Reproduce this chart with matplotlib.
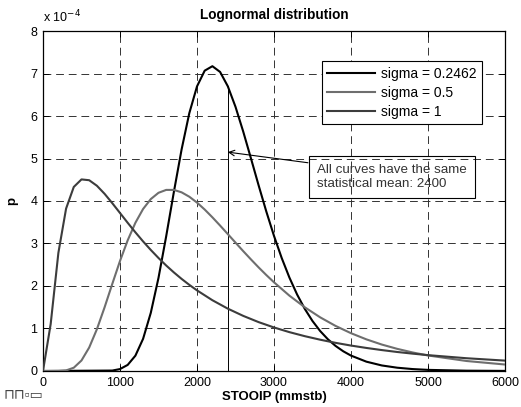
import matplotlib
matplotlib.use("Agg")
import matplotlib.pyplot as plt

plt.rcParams['font.family'] = ['Liberation Sans', 'DejaVu Sans']

# values, p in units of 1e-4
x_a = [0, 900, 1000, 1100, 1200, 1300, 1400, 1500, 1600, 1700, 1800, 1900, 2000,
       2100, 2200, 2300, 2400, 2500, 2600, 2700, 2800, 2900, 3000, 3100, 3200,
       3300, 3400, 3500, 3600, 3700, 3800, 3900, 4000, 4200, 4400, 4600, 4800,
       5000, 5500, 6000]
p_a = [0, 0.01, 0.045, 0.143, 0.36, 0.757, 1.368, 2.19, 3.17, 4.215, 5.212, 6.065,
       6.696, 7.067, 7.172, 7.037, 6.701, 6.217, 5.636, 5.008, 4.37, 3.754, 3.179,
       2.659, 2.199, 1.8, 1.461, 1.176, 0.939, 0.746, 0.589, 0.463, 0.362, 0.219,
       0.13, 0.077, 0.045, 0.026, 0.007, 0.002]

x_b = [0, 200, 300, 400, 500, 600, 700, 800, 900, 1000, 1100, 1200, 1300, 1400,
       1500, 1600, 1700, 1800, 1900, 2000, 2100, 2200, 2300, 2400, 2500, 2600,
       2700, 2800, 2900, 3000, 3200, 3400, 3600, 3800, 4000, 4200, 4400, 4600,
       4800, 5000, 5500, 6000]
p_b = [0, 0.001, 0.013, 0.077, 0.247, 0.552, 0.982, 1.498, 2.049, 2.588, 3.075,
       3.487, 3.812, 4.045, 4.193, 4.261, 4.261, 4.204, 4.101, 3.963, 3.799, 3.616,
       3.422, 3.222, 3.021, 2.821, 2.627, 2.438, 2.258, 2.087, 1.773, 1.499, 1.262,
       1.06, 0.889, 0.744, 0.622, 0.521, 0.436, 0.365, 0.235, 0.152]

x_c = [0, 100, 200, 300, 400, 500, 600, 700, 800, 900, 1000, 1100, 1200, 1300,
       1400, 1500, 1600, 1700, 1800, 1900, 2000, 2200, 2400, 2600, 2800, 3000,
       3200, 3400, 3600, 3800, 4000, 4200, 4400, 4600, 4800, 5000, 5500, 6000]
p_c = [0, 1.105, 2.78, 3.821, 4.331, 4.508, 4.489, 4.359, 4.169, 3.949, 3.718,
       3.487, 3.263, 3.049, 2.848, 2.659, 2.482, 2.319, 2.167, 2.027, 1.897, 1.665,
       1.467, 1.297, 1.15, 1.024, 0.914, 0.819, 0.736, 0.662, 0.598, 0.542, 0.492,
       0.447, 0.408, 0.373, 0.3, 0.244]

labels = ['sigma = 0.2462', 'sigma = 0.5', 'sigma = 1']
colors = ['#000000', '#6e6e6e', '#3c3c3c']
mean_val = 2400
mean_p = 6.70
arrow_p = 5.15
note = 'All curves have the same\nstatistical mean: 2400'

xticks = [0, 1000, 2000, 3000, 4000, 5000, 6000]
yticks = [0, 1, 2, 3, 4, 5, 6, 7, 8]

fig = plt.figure(figsize=(5.21, 4.07), dpi=100)
ax = fig.add_axes([0.0825, 0.0885, 0.8868, 0.8353])

ax.plot(x_a, p_a, color=colors[0], lw=1.5, label=labels[0], zorder=3)
ax.plot(x_b, p_b, color=colors[1], lw=1.5, label=labels[1], zorder=3)
ax.plot(x_c, p_c, color=colors[2], lw=1.5, label=labels[2], zorder=3)
ax.plot([mean_val, mean_val], [0, mean_p], color='black', lw=0.7, zorder=2)

ax.set_xlim(0, 6000)
ax.set_ylim(0, 8)
ax.set_xticks(xticks)
ax.set_yticks(yticks)
ax.tick_params(direction='in', length=4, width=0.7, labelsize=9,
               top=True, right=True, pad=4)
ax.grid(True, color='#333333', lw=0.7, ls=(0, (8, 5)))
for s in ax.spines.values():
    s.set_linewidth(0.9)

ax.set_title('Lognormal distribution', fontsize=9.8, fontweight='bold', pad=9)
ax.set_xlabel('STOOIP (mmstb)', fontsize=9.5, fontweight='bold', labelpad=2)
ax.set_ylabel('p', fontsize=9.5, fontweight='bold', labelpad=9)
ax.text(0.0, 1.018, r'x 10$^{-4}$', transform=ax.transAxes, fontsize=9,
        ha='left', va='bottom')

leg = ax.legend(loc='upper right', bbox_to_anchor=(0.951, 0.911), fontsize=10,
                handlelength=3.4, handletextpad=0.45, borderpad=0.42,
                labelspacing=0.34, fancybox=False, framealpha=1,
                edgecolor='black', borderaxespad=0)
leg.get_frame().set_linewidth(0.8)

ax.text(3560, 4.56, note, fontsize=9.6, color='#333333', ha='left',
        va='center', linespacing=1.2,
        bbox=dict(boxstyle='square,pad=0.6', fc='none', ec='black', lw=0.8))
ax.annotate('', xy=(mean_val, arrow_p), xytext=(3441, 4.9),
            arrowprops=dict(arrowstyle='->', color='black', lw=0.8,
                            shrinkA=0, shrinkB=0))

fig.text(0.006, 0.022, '\u2293\u2293\u25ab\u25ad', fontsize=10, color='#444444')

fig.savefig('out.png', dpi=100)
